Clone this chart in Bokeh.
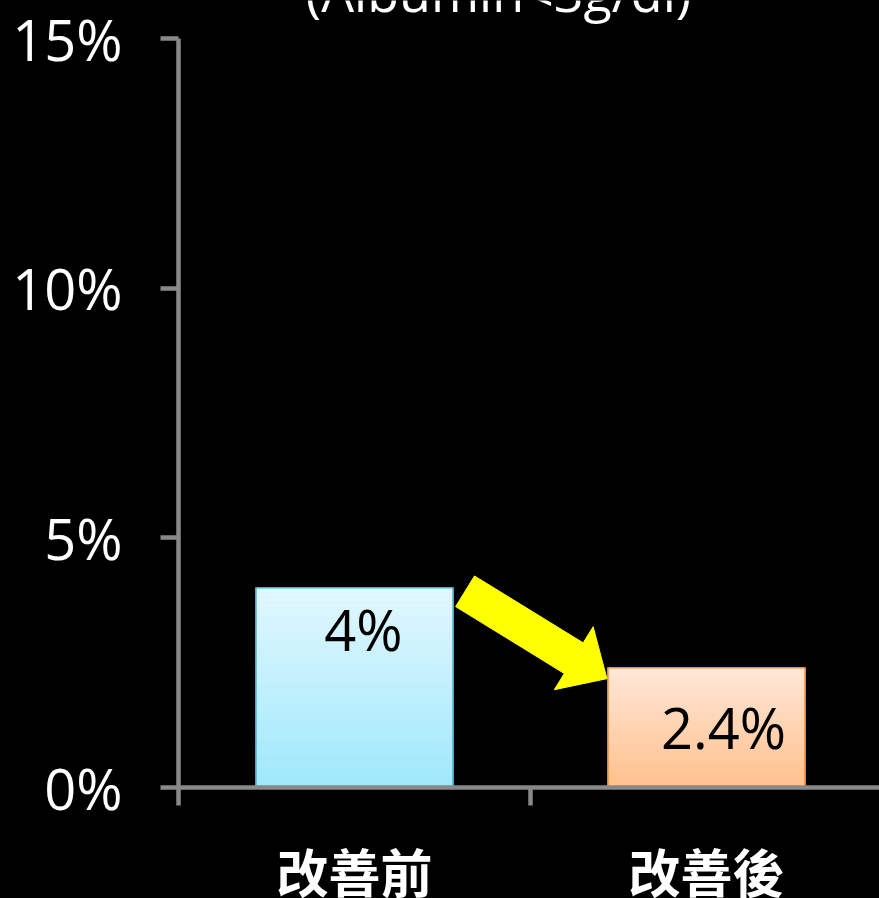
from bokeh.plotting import figure
from bokeh.models import (ColumnDataSource, FixedTicker, PrintfTickFormatter, Range1d)
from bokeh.embed import file_html
from bokeh.resources import INLINE
from bokeh.core.properties import value

# ---- data ----
categories = ["改善前", "改善後"]
rates = [4.0, 2.4]
value_labels = ["4%", "2.4%"]
y_ticks = [0, 5, 10, 15]
title_text = "(Albumin<3g/dl)"

# ---- styling ----
FONT = "Open Sans"
CJK = "Noto Sans CJK TC"
AXIS_COLOR = "#898989"
bar_top_colors = [(0xE2, 0xF8, 0xFE), (0xFF, 0xE8, 0xD8)]
bar_bot_colors = [(0x9E, 0xE8, 0xFC), (0xFF, 0xC0, 0x8C)]
bar_line_colors = ["#4BACC6", "#F08A3C"]
bar_width = 0.56
label_dx = [9, 17]     # px offsets of value labels
label_dy = [41, 59]

PX_X = 352.0             # px per category
PX_Y = 749 / 15.0        # px per percent
FRAME_W, FRAME_H = 701, 787
Y_END = FRAME_H / PX_Y

xs = [i + 0.5 for i in range(len(categories))]

p = figure(width=879, height=898, output_backend="svg", toolbar_location=None,
           x_range=Range1d(0, FRAME_W / PX_X), y_range=Range1d(0, Y_END),
           frame_width=FRAME_W, frame_height=FRAME_H,
           min_border_left=178, min_border_top=0, min_border_right=0, min_border_bottom=100)
p.background_fill_color = "black"
p.border_fill_color = "black"
p.outline_line_color = None
p.grid.visible = False

# gradient bars (horizontal strips, derived from the values)
n = 40
for i, (xc, v) in enumerate(zip(xs, rates)):
    lefts, rights, bottoms, tops, cols = [], [], [], [], []
    for k in range(n):
        f = (k + 0.5) / n  # 0 bottom -> 1 top
        c = tuple(int(round(bar_bot_colors[i][j] + (bar_top_colors[i][j] - bar_bot_colors[i][j]) * f)) for j in range(3))
        lefts.append(xc - bar_width / 2); rights.append(xc + bar_width / 2)
        bottoms.append(v * k / n); tops.append(v * (k + 1) / n)
        cols.append("#%02x%02x%02x" % c)
    p.quad(left=lefts, right=rights, bottom=bottoms, top=tops, fill_color=cols,
           line_color=cols, line_width=1)

src = ColumnDataSource(dict(x=xs, top=rates, left=[x - bar_width / 2 for x in xs],
                            right=[x + bar_width / 2 for x in xs], lc=bar_line_colors,
                            lab=value_labels, dx=label_dx, dy=label_dy))
p.quad(left="left", right="right", bottom=0, top="top", source=src,
       fill_color=None, line_color="lc", line_width=1.5)

p.text(x="x", y="top", text="lab", source=src, x_offset="dx", y_offset="dy",
       text_align="center", text_baseline="alphabetic", text_color="black",
       text_font=value(FONT), text_font_size="56px")

# yellow block arrow from bar 1 to bar 2 (computed in pixel space)
sx0 = (xs[0] + bar_width / 2) * PX_X + 12
sy0 = -(rates[0] - 0.07) * PX_Y
sx1 = (xs[1] - bar_width / 2) * PX_X - 1
sy1 = -(rates[1] - 0.22) * PX_Y
dxp, dyp = sx1 - sx0, sy1 - sy0
L = (dxp ** 2 + dyp ** 2) ** 0.5
ux, uy = dxp / L, dyp / L
nx, ny = -uy, ux
sw, hw, hl = 36 / 2, 74 / 2, 39
bx, by = sx1 - ux * hl, sy1 - uy * hl
pts = [(sx0 + nx * sw, sy0 + ny * sw), (bx + nx * sw, by + ny * sw), (bx + nx * hw, by + ny * hw),
       (sx1, sy1), (bx - nx * hw, by - ny * hw), (bx - nx * sw, by - ny * sw), (sx0 - nx * sw, sy0 - ny * sw)]
p.patch(x=[a / PX_X for a, b in pts], y=[-b / PX_Y for a, b in pts],
        fill_color="#FFFF00", line_color="#FFFF00", line_width=1)

# title, partly cut by the top edge as in the reference
p.text(x=[(498 - 178) / PX_X], y=[y_ticks[-1] + (38 + 9) / PX_Y], text=[title_text],
       text_align="center", text_baseline="alphabetic", text_color="white",
       text_font=value(FONT), text_font_size="52px")

# axes
p.xaxis.ticker = FixedTicker(ticks=xs, minor_ticks=[0, 1])
p.xaxis.major_label_overrides = {x: c for x, c in zip(xs, categories)}
p.xaxis.major_tick_line_color = None
p.xaxis.major_tick_out = 0
p.xaxis.major_tick_in = 0
p.xaxis.minor_tick_out = 18
p.xaxis.minor_tick_in = 0
p.xaxis.minor_tick_line_color = AXIS_COLOR
p.xaxis.minor_tick_line_width = 4.5
p.xaxis.axis_line_color = AXIS_COLOR
p.xaxis.axis_line_width = 4.5
p.xaxis.major_label_text_color = "white"
p.xaxis.major_label_text_font = CJK
p.xaxis.major_label_text_font_style = "bold"
p.xaxis.major_label_text_font_size = "52px"
p.xaxis.major_label_standoff = 27

p.yaxis.ticker = FixedTicker(ticks=y_ticks, minor_ticks=[])
p.yaxis.bounds = (y_ticks[0], y_ticks[-1])
p.yaxis.formatter = PrintfTickFormatter(format="%d%%")
p.yaxis.major_tick_out = 18
p.yaxis.major_tick_in = 0
p.yaxis.major_tick_line_color = AXIS_COLOR
p.yaxis.major_tick_line_width = 4.5
p.yaxis.axis_line_color = AXIS_COLOR
p.yaxis.axis_line_width = 4.5
p.yaxis.major_label_text_color = "white"
p.yaxis.major_label_text_font = FONT
p.yaxis.major_label_text_font_size = "56px"
p.yaxis.major_label_standoff = 38

html = file_html(p, INLINE)
html = html.replace("<head>", "<head><style>html,body{background:#000;margin:0;}</style>", 1)
open("out.html", "w").write(html)
